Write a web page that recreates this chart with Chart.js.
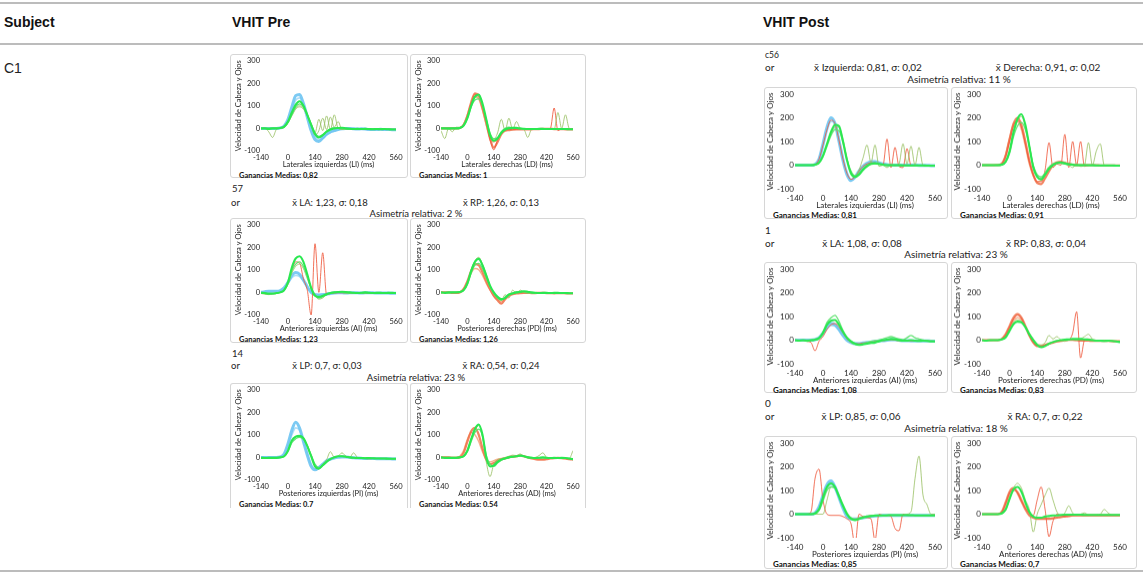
<!DOCTYPE html>
<html lang="es">
<head>
<meta charset="UTF-8">
<title>VHIT Pre / Post</title>
<script src="https://cdn.jsdelivr.net/npm/chart.js@4.4.1/dist/chart.umd.min.js"></script>
<style>
  body { margin: 0; width: 1143px; height: 576px; background: #fff; position: relative; overflow: hidden; font-family: "Liberation Sans", Arial, sans-serif; }
  .hline { position: absolute; left: 0; width: 1143px; height: 2px; background: #bcbcbc; }
  .head { position: absolute; font-weight: bold; font-size: 14px; color: #111; line-height: 16px; }
  .cell { position: absolute; font-size: 14px; color: #222; line-height: 16px; }
  .txt { position: absolute; font-family: Lato, "Noto Sans", sans-serif; color: #222; white-space: nowrap; transform: translate(-50%, -50%); }
  .frag { position: absolute; font-family: Lato, "Noto Sans", sans-serif; color: #222; white-space: nowrap; transform: translateY(-50%); }
  .box { position: absolute; border: 1px solid #d6d6d6; border-radius: 3px; box-sizing: border-box; background: #fff; }
  .box.open { border-bottom: none; border-radius: 3px 3px 0 0; }
  .wrap { position: absolute; left: 0; top: 0; }
  .gain { position: absolute; font-family: Lato, "Noto Sans", sans-serif; font-weight: bold; color: #111; white-space: nowrap; transform: translateY(-50%); }
</style>
</head>
<body>
<div class="hline" style="top:2px"></div>
<div class="hline" style="top:43px"></div>
<div class="hline" style="top:570px"></div>
<div class="head" style="left:4px; top:14px">Subject</div>
<div class="head" style="left:232px; top:14px">VHIT Pre</div>
<div class="head" style="left:763px; top:14px">VHIT Post</div>
<div class="cell" style="left:4px; top:60px">C1</div>
<div id="stage"></div>

<script>
// time axis (ms), shared by every trace
const T = [-140, -120, -100, -80, -60, -40, -20, 0, 20, 40, 60, 80,
           100, 120, 140, 160, 180, 200, 220, 240, 260, 280, 300, 320,
           340, 360, 380, 400, 420, 440, 460, 480, 500, 520, 540, 560];
const xTicks = [-140, 0, 140, 280, 420, 560];
const yTicks = [-100, 0, 100, 200, 300];

// ---------- VHIT Pre ----------
const preLI_headA = [0,0,0,0,0,2,10,40,95,145,150,110, 50,-10,-50,-58,-42,-25,-15,-10,-5,-2,0,0, -2,-3,-2,-3,-5,-5,-5,-4,-5,-5,-6,-6];
const preLI_headB = [0,0,0,0,0,1,6,30,80,125,135,105, 55,5,-35,-50,-45,-30,-18,-10,-5,-2,0,0, -1,-2,-2,-3,-4,-4,-4,-4,-5,-5,-5,-5];
const preLI_eyeA  = [0,0,-2,0,0,2,8,30,70,105,120,100, 60,15,-25,-40,-30,-15,-5,0,2,3,0,-2, -3,-2,-3,-2,-3,-4,-3,-4,-3,-4,-5,-5];
const preLI_eyeB  = [-2,0,0,0,0,2,5,25,60,95,108,95, 60,20,-20,-35,-28,-12,-2,2,0,-2,-2,-3, -2,-3,-3,-2,-2,-3,-3,-2,-3,-4,-4,-4];
const preLI_saccA = [0,0,-15,-40,-5,0,5,25,60,90,100,90, 60,20,-20,40,-10,55,-5,60,0,-5,0,-2, -3,-2,-3,-2,-3,-2,-3,-3,-4,-3,-4,-5];
const preLI_saccB = [0,0,0,0,0,0,5,25,55,85,95,85, 55,15,-30,-10,45,-5,50,5,30,-5,-5,-3, -3,-2,-2,-3,-3,-3,-2,-3,-3,-4,-4,-4];

const preLD_headA = [0,0,0,0,0,2,15,55,115,155,145,90, 25,-45,-85,-60,-25,-10,-8,-6,-5,-5,-5,-4, -4,-3,-3,-2,-2,-2,-3,-3,-3,-4,-4,-4];
const preLD_headB = [0,0,0,0,0,3,18,60,110,140,130,80, 15,-40,-60,-45,-20,-8,-4,-2,-2,-3,-3,-3, -2,-2,-3,-3,-2,-2,-3,-3,-3,-3,-4,-4];
const preLD_red   = [0,0,0,0,0,2,15,55,110,150,150,100, 30,-50,-95,-50,-20,-8,-5,-5,-4,-4,-3,-3, -3,-2,-2,-2,-2,0,90,-10,-2,-3,-3,-4];
const preLD_eyeA  = [0,0,0,0,0,2,12,45,100,140,150,110, 40,-30,-55,-45,-20,-5,0,2,2,0,-2,-3, -3,-3,-2,-2,-3,-3,-3,-3,-3,-3,-4,-4];
const preLD_eyeB  = [0,0,-2,0,0,3,12,45,95,125,130,100, 40,-20,-45,-40,-15,0,5,3,0,-2,-3,-3, -2,-3,-3,-2,-3,-2,-3,-3,-3,-3,-4,-4];
const preLD_saccA = [-10,-45,0,-15,5,5,20,55,105,140,140,100, 35,-25,-50,-20,40,-10,45,-5,30,0,-5,-40, -5,-3,-2,-2,-3,-3,-5,70,0,60,0,-3];

const preAI_headA = [0,3,5,5,5,8,20,45,75,88,80,55, 25,0,-10,-12,-10,-8,-5,-3,-2,-2,-3,-2, -2,-2,-3,-2,-2,-2,-3,-3,-3,-3,-4,-4];
const preAI_headB = [0,2,3,4,4,6,18,40,65,75,70,50, 22,0,-8,-10,-8,-6,-4,-2,-2,-2,-2,-2, -2,-2,-2,-2,-3,-2,-3,-3,-3,-3,-3,-4];
const preAI_eyeA  = [-2,-3,-5,-5,-3,0,10,45,110,150,160,135, 80,20,-15,-20,-15,-8,-3,0,2,3,2,0, -2,-3,-2,0,-2,-3,-2,-2,-3,-2,-2,-3];
const preAI_eyeB  = [-3,-5,-8,-6,-4,0,8,40,95,125,135,115, 70,20,-10,-25,-20,-10,-4,0,2,0,-2,-3, -2,-2,-3,-2,-3,-3,-2,-3,-3,-3,-3,-3];
const preAI_red   = [-5,-5,-8,-5,-3,0,10,40,95,135,130,60, 10,-100,215,0,175,-10,-5,-3,-2,-2,-3,-3, -2,-2,-3,-3,-3,-3,-3,-3,-3,-3,-4,-4];
const preAI_saccA = [-5,-8,-10,-8,-5,0,8,35,85,115,125,105, 60,15,-15,-30,-25,-10,-2,0,2,0,-2,-2, -3,-2,-3,-2,-2,-3,-3,-3,-2,-3,-3,-3];

const prePD_headA = [0,0,0,-2,-2,0,15,50,95,125,120,90, 50,15,-15,-35,-50,-30,-15,-8,-5,-3,-2,-2, -3,-3,-2,-2,-3,-3,-4,-3,-3,-4,-5,-5];
const prePD_headB = [0,0,0,0,0,2,15,45,85,105,100,75, 40,10,-15,-30,-40,-25,-12,-5,-3,-2,-2,-2, -2,-3,-3,-2,-2,-3,-3,-3,-3,-4,-4,-4];
const prePD_eyeA  = [0,-2,0,0,0,2,10,40,95,135,148,120, 75,30,0,-20,-30,-25,-10,-5,0,2,5,3, 0,-2,-3,-2,-2,-3,-2,-2,-3,-3,-4,-4];
const prePD_eyeB  = [-2,0,-2,0,0,2,8,35,85,120,128,105, 65,25,-5,-25,-35,-20,-8,-2,2,4,3,0, -2,-3,-2,-2,-3,-3,-3,-2,-3,-3,-4,-4];
const prePD_saccA = [0,0,0,0,0,3,12,45,100,140,155,125, 80,30,-5,-25,-35,-10,-25,10,-5,10,0,-5, -3,-2,-2,-3,-3,-2,-3,-3,-3,-3,-4,-5];

const prePI_headA = [0,0,0,0,0,2,15,60,120,155,130,70, 10,-40,-55,-45,-30,-15,-8,-3,0,2,2,0, -2,-3,-4,-5,-5,-5,-6,-6,-6,-6,-7,-7];
const prePI_headB = [0,0,0,0,0,2,12,50,100,130,120,75, 20,-30,-50,-45,-30,-15,-5,0,2,3,2,0, -2,-3,-3,-4,-5,-5,-5,-5,-6,-6,-6,-6];
const prePI_eyeA  = [-2,-3,-2,-2,-2,0,5,30,75,92,95,85, 50,5,-40,-50,-35,-20,-8,0,5,5,3,0, -2,-3,-3,-4,-3,-4,-5,-5,-5,-6,-6,-6];
const prePI_eyeB  = [-3,-2,-3,-2,-2,0,4,25,65,82,88,80, 50,10,-30,-45,-35,-18,-6,0,4,5,2,0, -2,-2,-3,-3,-4,-4,-4,-5,-5,-5,-6,-6];
const prePI_saccA = [-2,-2,-2,-2,-2,0,6,30,70,90,95,85, 55,10,-35,-50,-30,-10,25,0,5,20,5,0, 20,0,-3,-5,-8,-5,-5,-5,-5,-5,-6,-6];

const preAD_headA = [0,0,0,-2,-2,0,20,70,115,130,100,40, -10,-30,-25,-15,-8,-5,0,3,5,8,5,0, -5,-8,-10,-10,-8,-5,-3,-2,-3,-5,-8,-10];
const preAD_headB = [0,0,0,0,0,5,30,80,110,100,70,25, -10,-20,-15,-8,-5,-2,0,2,4,6,4,0, -3,-6,-8,-8,-6,-4,-3,-3,-4,-6,-8,-8];
const preAD_eyeA  = [0,-2,-2,-2,-2,0,5,30,80,125,145,100, 0,-40,-35,-20,-10,-5,0,3,5,8,5,0, -2,-3,-2,0,-2,-3,-2,-3,-2,-3,-5,-8];
const preAD_eyeB  = [-2,-2,-3,-2,-2,0,4,25,70,110,125,95, 10,-30,-40,-25,-12,-5,0,2,4,6,4,2, 0,-2,-3,-2,-3,-3,-3,-3,-3,-4,-5,-6];
const preAD_saccA = [0,0,0,0,0,2,8,35,85,120,140,90, -20,-85,-30,-10,-5,0,5,10,8,15,5,0, -2,0,8,20,0,-3,-2,-3,-3,-5,-5,30];

// ---------- VHIT Post ----------
const postLI_headA = [0,0,0,0,0,3,25,90,160,200,175,100, 20,-40,-65,-50,-25,-5,8,15,15,10,5,2, 0,0,0,0,0,0,0,-1,-1,-1,-2,-2];
const postLI_headB = [0,0,0,0,0,2,20,75,145,185,180,115, 35,-30,-60,-55,-30,-10,5,12,14,10,5,2, 0,0,0,0,0,0,-1,-1,-1,-2,-2,-2];
const postLI_eyeA  = [0,0,0,0,0,2,10,40,90,140,170,165, 100,20,-35,-50,-40,-20,-5,5,8,5,2,0, 0,0,0,-1,-1,-1,-1,-1,-1,-2,-2,-2];
const postLI_eyeB  = [0,0,0,0,0,1,8,35,80,125,150,145, 95,25,-25,-45,-35,-15,0,5,6,4,2,0, 0,0,-1,-1,-1,-1,-1,-1,-2,-2,-2,-2];
const postLI_saccA = [0,0,0,0,0,2,10,40,85,130,160,160, 110,30,-30,-45,-20,30,85,10,85,-5,0,-10, 0,-2,5,90,5,80,0,75,0,-2,-2,-2];
const postLI_red   = [0,0,0,0,0,3,25,85,150,190,175,105, 25,-35,-60,-50,-25,-5,5,10,10,5,2,110, -10,75,-5,-10,70,0,0,0,0,-1,-1,-2];

const postLD_headA = [0,0,0,0,0,5,40,110,175,200,170,100, 20,-40,-75,-80,-55,-25,0,12,15,10,5,2, 0,0,0,0,0,0,-1,-1,-1,-2,-2,-2];
const postLD_headB = [0,0,0,0,2,8,45,115,175,185,150,80, 5,-45,-70,-65,-40,-15,5,12,12,8,4,2, 0,0,0,0,0,-1,-1,-1,-1,-2,-2,-2];
const postLD_eyeA  = [0,0,0,0,0,2,15,60,140,195,215,170, 80,-10,-50,-60,-40,-15,0,10,12,8,4,2, 0,0,0,0,0,-1,-1,-1,-1,-1,-2,-2];
const postLD_eyeB  = [0,0,0,0,0,2,12,50,120,165,180,150, 80,0,-40,-50,-35,-10,5,8,8,5,2,0, 0,0,0,-1,-1,-1,-1,-1,-1,-2,-2,-2];
const postLD_red   = [0,0,0,0,0,5,35,100,165,190,160,90, 15,-40,-70,-70,-20,95,-10,5,0,130,-10,100, 0,100,-5,0,0,0,-1,-1,-1,-1,-2,-2];
const postLD_saccA = [0,0,0,0,0,2,12,55,130,185,205,165, 85,0,-45,-55,-30,-5,5,10,8,5,0,-10, 5,-5,0,95,0,60,90,0,-2,-2,-2,-2];

const postAI_headA = [0,0,0,0,0,2,10,30,55,70,65,45, 20,0,-10,-15,-15,-12,-10,-8,-5,-3,-2,0, 2,2,0,-2,-2,-3,-3,-3,-3,-3,-4,-4];
const postAI_headB = [0,0,0,0,0,2,8,25,48,62,60,42, 20,2,-8,-12,-13,-12,-10,-8,-6,-4,-2,0, 1,1,0,-1,-2,-2,-3,-3,-3,-3,-3,-4];
const postAI_eyeA  = [0,-2,0,-3,0,2,8,30,65,82,85,65, 35,10,-5,-15,-20,-18,-15,-12,-10,-5,0,2, 5,3,0,-2,-2,0,-2,-3,-2,-3,-5,-5];
const postAI_eyeB  = [0,0,-2,0,-2,2,10,35,75,95,105,80, 40,10,-8,-18,-20,-15,-10,-5,-2,0,5,10, 15,10,5,2,10,20,10,5,0,-2,-3,-5];
const postAI_red   = [0,0,0,-5,-10,-45,-5,15,45,65,70,55, 30,5,-10,-15,-15,-12,-10,-8,-5,-3,-2,0, 2,0,-2,-2,-2,-3,-3,-3,-3,-3,-4,-4];

const postPD_headA = [0,0,0,0,0,5,25,60,95,110,95,60, 20,-10,-25,-25,-20,-15,-10,-5,-3,0,2,2, 0,-2,-2,-2,-3,-3,-3,-3,-3,-4,-5,-5];
const postPD_headB = [0,0,0,0,0,4,20,50,82,95,85,55, 20,-8,-22,-25,-22,-16,-10,-6,-3,0,1,1, 0,-1,-2,-2,-3,-3,-3,-3,-3,-4,-4,-5];
const postPD_eyeA  = [0,-2,0,0,0,3,12,40,68,78,75,55, 25,0,-20,-30,-25,-15,-8,-3,0,2,3,5, 5,5,3,2,0,-2,-2,-3,-2,-3,-5,-8];
const postPD_saccA = [0,0,-2,0,0,3,15,45,75,85,80,60, 30,5,-15,-20,-10,20,5,15,0,-5,0,5, 0,5,15,25,5,0,-3,-5,-3,-5,-5,-8];
const postPD_red   = [0,0,0,0,0,5,22,55,90,105,92,58, 20,-10,-25,-25,-20,-15,-10,-5,-2,0,2,30, 120,-75,0,5,0,-2,-3,-3,-3,-4,-5,-5];

const postPI_headA = [0,0,0,0,0,5,30,80,125,140,115,70, 25,-10,-20,-20,-18,-15,-12,-10,-8,-6,-5,-5, -5,-5,-5,-5,-5,-5,-5,-5,-5,-5,-5,-5];
const postPI_headB = [0,0,0,0,0,4,25,70,110,125,108,70, 30,-5,-18,-22,-20,-16,-12,-10,-8,-6,-5,-5, -5,-5,-5,-5,-5,-5,-5,-5,-5,-5,-5,-5];
const postPI_eyeA  = [0,0,0,0,0,3,20,70,115,130,115,75, 35,0,-20,-25,-20,-15,-10,-8,-6,-5,-5,-5, -4,-4,-4,-4,-4,-4,-5,-5,-5,-5,-5,-5];
const postPI_eyeB  = [0,0,0,0,0,2,15,55,100,115,110,80, 40,5,-15,-22,-20,-14,-10,-8,-6,-5,-5,-4, -4,-4,-4,-4,-4,-5,-5,-5,-5,-5,-5,-5];
const postPI_red   = [0,0,0,0,10,150,190,60,0,-5,-5,-5, -10,-20,-40,-130,0,-10,-15,-20,-110,0,-5,-5, -10,-60,-70,0,-5,-5,-5,-5,-5,-5,-5,-5];
const postPI_saccA = [0,0,0,0,0,0,0,0,60,115,110,75, 35,0,-15,-20,-15,-10,-8,-5,-5,-5,-5,-5, -5,-5,-5,-5,0,10,150,245,80,40,0,0];

const postAD_headA = [0,0,0,0,0,10,50,95,110,90,55,20, -5,-15,-20,-20,-20,-20,-18,-15,-12,-10,-8,-5, -5,-5,-5,-5,-5,-5,-5,-5,-5,-5,-5,-5];
const postAD_headB = [0,0,0,0,0,6,35,80,100,95,65,30, 0,-12,-18,-20,-20,-18,-16,-14,-12,-10,-8,-6, -5,-5,-5,-5,-5,-5,-5,-5,-5,-5,-5,-5];
const postAD_eyeA  = [0,0,0,0,0,3,20,65,105,115,95,50, 10,-10,-15,-15,-10,-8,-5,-5,-3,-2,-2,-2, -2,-2,-3,-3,-3,-3,-3,-3,-3,-3,-3,-3];
const postAD_saccA = [0,0,0,0,0,2,15,60,110,130,110,60, 20,-75,0,40,80,110,60,10,-5,5,35,5, -5,0,5,-3,-3,-3,0,20,5,-3,-3,-3];
const postAD_red   = [0,0,0,0,0,8,45,90,105,90,55,25, 5,-5,60,115,20,-95,-30,0,-5,-8,-5,-5, -5,-5,-5,-5,-5,-5,-5,-5,-5,-5,-5,-5];

// texts between panel rows
const notes = [
  {x: 232, y: 188, t: '57', frag: true, fs: 9.5},
  {x: 231, y: 202, t: 'or', frag: true, fs: 9.5},
  {x: 330, y: 202, t: 'x̄ LA: 1,23, σ: 0,18', fs: 9.5},
  {x: 501, y: 202, t: 'x̄ RP: 1,26, σ: 0,13', fs: 9.5},
  {x: 416, y: 213, t: 'Asimetría relativa: 2 %', fs: 9.5},
  {x: 232, y: 353, t: '14', frag: true, fs: 9.5},
  {x: 231, y: 365, t: 'or', frag: true, fs: 9.5},
  {x: 327, y: 365, t: 'x̄ LP: 0,7, σ: 0,03', fs: 9.5},
  {x: 501, y: 365, t: 'x̄ RA: 0,54, σ: 0,24', fs: 9.5},
  {x: 416, y: 377, t: 'Asimetría relativa: 23 %', fs: 9.5},
  {x: 765, y: 55, t: 'c56', frag: true, fs: 8.5},
  {x: 765, y: 67, t: 'or', frag: true, fs: 10},
  {x: 868, y: 67, t: 'x̄ Izquierda: 0,81, σ: 0,02', fs: 10},
  {x: 1048, y: 67, t: 'x̄ Derecha: 0,91, σ: 0,02', fs: 10},
  {x: 959, y: 79, t: 'Asimetría relativa: 11 %', fs: 10},
  {x: 765, y: 230, t: '1', frag: true, fs: 10},
  {x: 765, y: 243, t: 'or', frag: true, fs: 10},
  {x: 862, y: 243, t: 'x̄ LA: 1,08, σ: 0,08', fs: 10},
  {x: 1046, y: 243, t: 'x̄ RP: 0,83, σ: 0,04', fs: 10},
  {x: 956, y: 254, t: 'Asimetría relativa: 23 %', fs: 10},
  {x: 765, y: 403, t: '0', frag: true, fs: 10},
  {x: 765, y: 416, t: 'or', frag: true, fs: 10},
  {x: 861, y: 416, t: 'x̄ LP: 0,85, σ: 0,06', fs: 10},
  {x: 1045, y: 416, t: 'x̄ RA: 0,7, σ: 0,22', fs: 10},
  {x: 956, y: 428, t: 'Asimetría relativa: 18 %', fs: 10}
];

const FONT = 'Lato, "Noto Sans", sans-serif';

// panel geometry: s = Pre column, m = Post column
const geom = {
  s: {fs: 7.5, top: 5, bottom: 96, xH: 18, yW: 30, xPad: 2, yTitlePad: 3, gainY: 120, gainFs: 7.5},
  m: {fs: 8, top: 6, bottom: 100, xH: 21.5, yW: 30, xPad: 4.5, yTitlePad: 1, gainY: 127, gainFs: 8}
};

const sty = {
  headL: [{c: 'rgba(110,196,242,0.9)', w: 3}, {c: 'rgba(165,218,246,0.9)', w: 1.8}],
  headR: [{c: 'rgba(240,110,70,0.85)', w: 2.2}, {c: 'rgba(246,165,125,0.85)', w: 1.5}],
  eye: [{c: '#2ae850', w: 2.1}, {c: 'rgba(95,225,112,0.95)', w: 1.3}],
  sacc: {c: 'rgba(150,190,95,0.8)', w: 1},
  red: {c: 'rgba(238,88,60,0.85)', w: 1}
};

const panels = [
  {L: 230, Tp: 54, W: 178, H: 124, g: 's', R: 165, side: 'L', x: 'Laterales izquierdas (LI) (ms)', gain: '0,82',
   head: [preLI_headA, preLI_headB], eye: [preLI_eyeA, preLI_eyeB], sacc: [preLI_saccA, preLI_saccB], red: []},
  {L: 410, Tp: 54, W: 176, H: 124, g: 's', R: 162, side: 'R', x: 'Laterales derechas (LD) (ms)', gain: '1',
   head: [preLD_headA, preLD_headB], eye: [preLD_eyeA, preLD_eyeB], sacc: [preLD_saccA], red: [preLD_red]},
  {L: 230, Tp: 218, W: 178, H: 125, g: 's', R: 165, side: 'L', x: 'Anteriores izquierdas (AI) (ms)', gain: '1,23',
   head: [preAI_headA, preAI_headB], eye: [preAI_eyeA, preAI_eyeB], sacc: [preAI_saccA], red: [preAI_red]},
  {L: 410, Tp: 218, W: 176, H: 125, g: 's', R: 162, side: 'R', x: 'Posteriores derechas (PD) (ms)', gain: '1,26',
   head: [prePD_headA, prePD_headB], eye: [prePD_eyeA, prePD_eyeB], sacc: [prePD_saccA], red: []},
  {L: 230, Tp: 383, W: 178, H: 125, g: 's', R: 165, side: 'L', open: true, x: 'Posteriores izquierdas (PI) (ms)', gain: '0.7',
   head: [prePI_headA, prePI_headB], eye: [prePI_eyeA, prePI_eyeB], sacc: [prePI_saccA], red: []},
  {L: 410, Tp: 383, W: 176, H: 125, g: 's', R: 162, side: 'R', open: true, x: 'Anteriores derechas (AD) (ms)', gain: '0.54',
   head: [preAD_headA, preAD_headB], eye: [preAD_eyeA, preAD_eyeB], sacc: [preAD_saccA], red: []},

  {L: 764, Tp: 87, W: 184, H: 132, g: 'm', R: 170, side: 'L', x: 'Laterales izquierdas (LI) (ms)', gain: '0,81',
   head: [postLI_headA, postLI_headB], eye: [postLI_eyeA, postLI_eyeB], sacc: [postLI_saccA], red: [postLI_red]},
  {L: 951, Tp: 87, W: 186, H: 132, g: 'm', R: 168, side: 'R', x: 'Laterales derechas (LD) (ms)', gain: '0,91',
   head: [postLD_headA, postLD_headB], eye: [postLD_eyeA, postLD_eyeB], sacc: [postLD_saccA], red: [postLD_red]},
  {L: 764, Tp: 262, W: 184, H: 131, g: 'm', R: 170, side: 'L', x: 'Anteriores izquierdas (AI) (ms)', gain: '1,08',
   head: [postAI_headA, postAI_headB], eye: [postAI_eyeA, postAI_eyeB], sacc: [], red: [postAI_red]},
  {L: 951, Tp: 262, W: 186, H: 131, g: 'm', R: 168, side: 'R', x: 'Posteriores derechas (PD) (ms)', gain: '0,83',
   head: [postPD_headA, postPD_headB], eye: [postPD_eyeA], sacc: [postPD_saccA], red: [postPD_red]},
  {L: 764, Tp: 436, W: 184, H: 133, g: 'm', R: 170, side: 'L', x: 'Posteriores izquierdas (PI) (ms)', gain: '0,85',
   head: [postPI_headA, postPI_headB], eye: [postPI_eyeA, postPI_eyeB], sacc: [postPI_saccA], red: [postPI_red]},
  {L: 951, Tp: 436, W: 186, H: 133, g: 'm', R: 168, side: 'R', x: 'Anteriores derechas (AD) (ms)', gain: '0,7',
   head: [postAD_headA, postAD_headB], eye: [postAD_eyeA], sacc: [postAD_saccA], red: [postAD_red]}
];

const stage = document.getElementById('stage');

notes.forEach(n => {
  const d = document.createElement('div');
  d.className = n.frag ? 'frag' : 'txt';
  d.style.left = n.x + 'px';
  d.style.top = n.y + 'px';
  d.style.fontSize = n.fs + 'px';
  d.textContent = n.t;
  stage.appendChild(d);
});

function line(vals, s) {
  return {
    data: T.map((t, i) => ({x: t, y: vals[i]})),
    borderColor: s.c,
    borderWidth: s.w,
    pointRadius: 0,
    cubicInterpolationMode: 'monotone',
    fill: false
  };
}

panels.forEach(p => {
  const g = geom[p.g];
  const box = document.createElement('div');
  box.className = 'box' + (p.open ? ' open' : '');
  box.style.left = p.L + 'px';
  box.style.top = p.Tp + 'px';
  box.style.width = p.W + 'px';
  box.style.height = p.H + 'px';

  const wrap = document.createElement('div');
  wrap.className = 'wrap';
  wrap.style.width = p.W + 'px';
  wrap.style.height = (g.bottom + g.xH) + 'px';
  const cv = document.createElement('canvas');
  wrap.appendChild(cv);
  box.appendChild(wrap);

  const gd = document.createElement('div');
  gd.className = 'gain';
  gd.style.left = '8px';
  gd.style.top = g.gainY + 'px';
  gd.style.fontSize = g.gainFs + 'px';
  gd.textContent = 'Ganancias Medias: ' + p.gain;
  box.appendChild(gd);
  stage.appendChild(box);

  const headSty = p.side === 'L' ? sty.headL : sty.headR;
  // first dataset is painted last, so eye traces go first
  const ds = [];
  p.eye.forEach((v, i) => ds.push(line(v, sty.eye[i])));
  p.sacc.forEach(v => ds.push(line(v, sty.sacc)));
  p.red.forEach(v => ds.push(line(v, sty.red)));
  p.head.forEach((v, i) => ds.push(line(v, headSty[i])));

  const tickFont = {size: g.fs, family: FONT};
  new Chart(cv, {
    type: 'line',
    data: {datasets: ds},
    options: {
      animation: false,
      responsive: true,
      maintainAspectRatio: false,
      layout: {padding: {top: g.top, right: p.W - p.R, bottom: 0, left: 0}},
      plugins: {legend: {display: false}, tooltip: {enabled: false}},
      scales: {
        x: {
          type: 'linear', min: -140, max: 560,
          grid: {display: false, drawTicks: false},
          border: {display: false},
          afterBuildTicks: s => { s.ticks = xTicks.map(v => ({value: v})); },
          ticks: {padding: g.xPad, font: tickFont, color: '#222', maxRotation: 0, autoSkip: false},
          title: {display: true, text: p.x, font: tickFont, color: '#222', padding: 0},
          afterFit: s => { s.height = g.xH; }
        },
        y: {
          min: -100, max: 300,
          grid: {display: false, drawTicks: false},
          border: {display: false},
          afterBuildTicks: s => { s.ticks = yTicks.map(v => ({value: v})); },
          ticks: {padding: 1, font: tickFont, color: '#222'},
          title: {display: true, text: 'Velocidad de Cabeza y Ojos', font: tickFont, color: '#222', padding: {top: g.yTitlePad, bottom: 0}},
          afterFit: s => { s.width = g.yW; }
        }
      }
    }
  });
});
</script>
</body>
</html>
